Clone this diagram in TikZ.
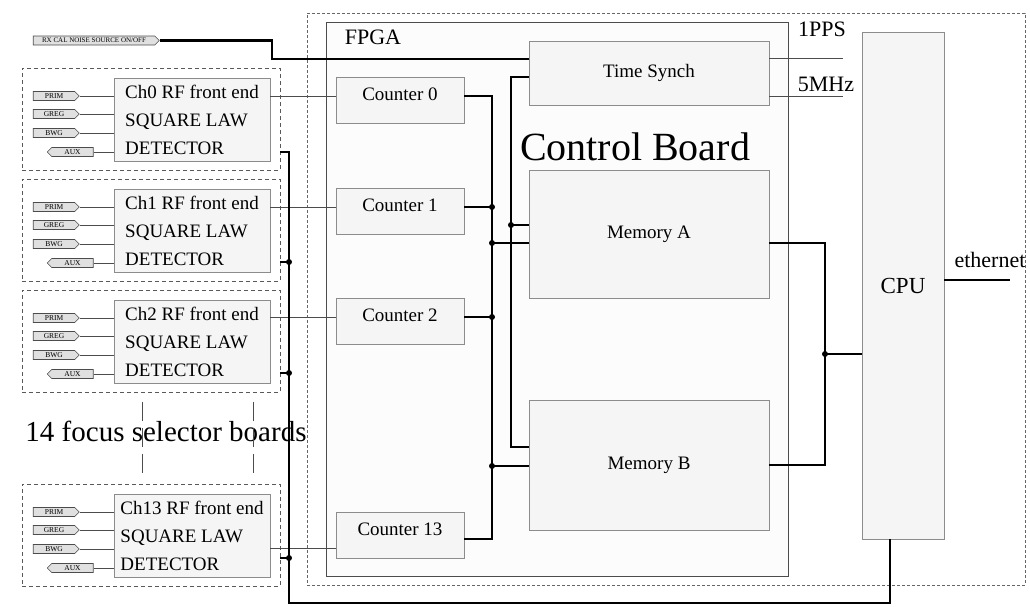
\documentclass[tikz,border=0pt]{standalone}
\usepackage{fontspec}
\setmainfont{Liberation Serif}
\usetikzlibrary{shapes.symbols}
\begin{document}
\begin{tikzpicture}[x=1pt,y=-1pt,
    box/.style={draw=black!45,fill=black!4,line width=0.8pt,inner sep=0pt,font=\fontsize{19}{22}\selectfont},
    board/.style={draw=black!65,dash pattern=on 4pt off 3pt,line width=0.8pt,minimum width=258pt,minimum height=102pt,inner sep=0pt},
    front/.style={box,minimum width=156pt,minimum height=83pt,align=left,font=\fontsize{19}{28}\selectfont},
    cnt/.style={box,minimum width=128pt,minimum height=46pt,text height=6pt,text depth=6pt},
    tagr/.style={signal,signal to=east,draw=black!70,fill=black!12,line width=0.6pt,minimum width=46pt,minimum height=9pt,inner sep=0pt,font=\fontsize{7.5}{8}\selectfont},
    tagl/.style={tagr,signal to=west},
    sig/.style={draw=black!70,line width=0.8pt},
    bus/.style={draw=black,line width=2.4pt},
    lbl/.style={font=\fontsize{22}{24}\selectfont}]
    \useasboundingbox (0,0) rectangle (1030,606);

    % control board and FPGA
    \node[draw=black!60,dash pattern=on 3pt off 2pt,line width=0.7pt,minimum width=718pt,minimum height=572pt] (cb) at (666,299) {};
    \node[draw=black!70,fill=black!1,line width=0.7pt,minimum width=462pt,minimum height=554pt] (fpga) at (557,299) {};
    \node[lbl] (fpgal) at (373,37) {FPGA};
    \node[font=\fontsize{40}{44}\selectfont] (cbl) at (635,147) {Control Board};

    \node[box,minimum width=240pt,minimum height=64pt] (sync) at (649,73) {Time Synch};
    \node[box,minimum width=240pt,minimum height=128pt] (memA) at (649,234) {Memory A};
    \node[box,minimum width=240pt,minimum height=130pt] (memB) at (649,465) {Memory B};
    \node[box,minimum width=82pt,minimum height=507pt,font=\fontsize{23}{26}\selectfont] (cpu) at (903,285.5) {CPU};

    \foreach \i/\y in {0/100.5,1/211.5,2/321.5,13/535}
        \node[cnt] (cnt\i) at (400,\y) {Counter \i};

    % focus selector boards
    \foreach \i/\t/\s/\d in {0/68/4.5/152,1/179/4.5/262,2/290/4.5/373,13/484/-13/558}
    {
        \node[board] (fsb\i) at (151,\t+51) {};
        \node[front] (fe\i) at (192,\t+51.5) {Ch\i{} RF front end\\SQUARE LAW\\DETECTOR};
        \node[tagr] (prim\i) at (54,\t+28) {PRIM};
        \node[tagr] (greg\i) at (54,\t+46) {GREG};
        \node[tagr] (bwg\i) at (54,\t+65) {BWG};
        \node[tagl] (aux\i) at (72.5,\t+84) {AUX};
        \draw[sig] (prim\i.east) -- (prim\i.east -| fe\i.west);
        \draw[sig] (greg\i.east) -- (greg\i.east -| fe\i.west);
        \draw[sig] (bwg\i.east) -- (bwg\i.east -| fe\i.west);
        \draw[sig] (aux\i.east) -- (aux\i.east -| fe\i.west);
        \draw[sig] ([yshift=\s pt]cnt\i.west) -- ([yshift=\s pt]cnt\i.west -| fe\i.east);
        \draw[bus] (fsb\i.east |- 0,\d) -- (289,\d);
    }
    \node[font=\fontsize{29}{32}\selectfont] (nsel) at (166,431) {14 focus selector boards};
    \draw[black!70,line width=0.8pt,dash pattern=on 19pt off 7pt] (142,402) -- (142,475);
    \draw[black!70,line width=0.8pt,dash pattern=on 19pt off 7pt] (253,402) -- (253,475);

    % detector bus to CPU
    \coordinate (dbot) at (289,603);
    \draw[bus] (fsb0.east |- 0,152) -| (dbot) -| ([xshift=-13pt]cpu.south);
    \foreach \d in {262,373,558}
        \fill (289,\d) circle (3pt);

    % RX cal noise source
    \node[tagr,minimum width=126pt,font=\fontsize{7}{8}\selectfont] (rx) at (94,40.5) {RX CAL NOISE SOURCE ON/OFF};
    \draw[bus] (rx.east) -| (272,59) -- (sync.west |- 0,59);

    % counter bus
    \draw[bus] ([yshift=4.5pt]cnt0.east) -| (492,539) -- ([yshift=-4pt]cnt13.east);
    \draw[bus] ([yshift=4.5pt]cnt1.east) -- (492,207);
    \draw[bus] ([yshift=4.5pt]cnt2.east) -- (492,317);
    \draw[bus] (sync.west |- 0,77) -| (511,447) -- (memB.west |- 0,447);
    \draw[bus] (511,225) -- (memA.west |- 0,225);
    \draw[bus] (492,243) -- (memA.west |- 0,243);
    \draw[bus] (492,466) -- (memB.west |- 0,466);
    \foreach \p in {(492,207),(492,317),(492,243),(492,466),(511,225)}
        \fill \p circle (3pt);

    % memories to CPU
    \draw[bus] ([yshift=-9pt]memA.east) -| (825,465) -- (memB.east);
    \draw[bus] (825,354) -- (cpu.west |- 0,354);
    \fill (825,354) circle (3pt);

    % time synch outputs and ethernet
    \coordinate (pps) at (843,58);
    \coordinate (mhz) at (843,96);
    \draw[sig] (sync.east |- pps) -- (pps);
    \draw[sig] (sync.east |- mhz) -- (mhz);
    \node[lbl] (ppsl) at (822,29) {1PPS};
    \node[lbl] (mhzl) at (826,84) {5MHz};
    \coordinate (eth) at (1010,280);
    \draw[bus] (cpu.east |- eth) -- (eth);
    \node[lbl] (ethl) at (990,260) {ethernet};
\end{tikzpicture}
\end{document}
